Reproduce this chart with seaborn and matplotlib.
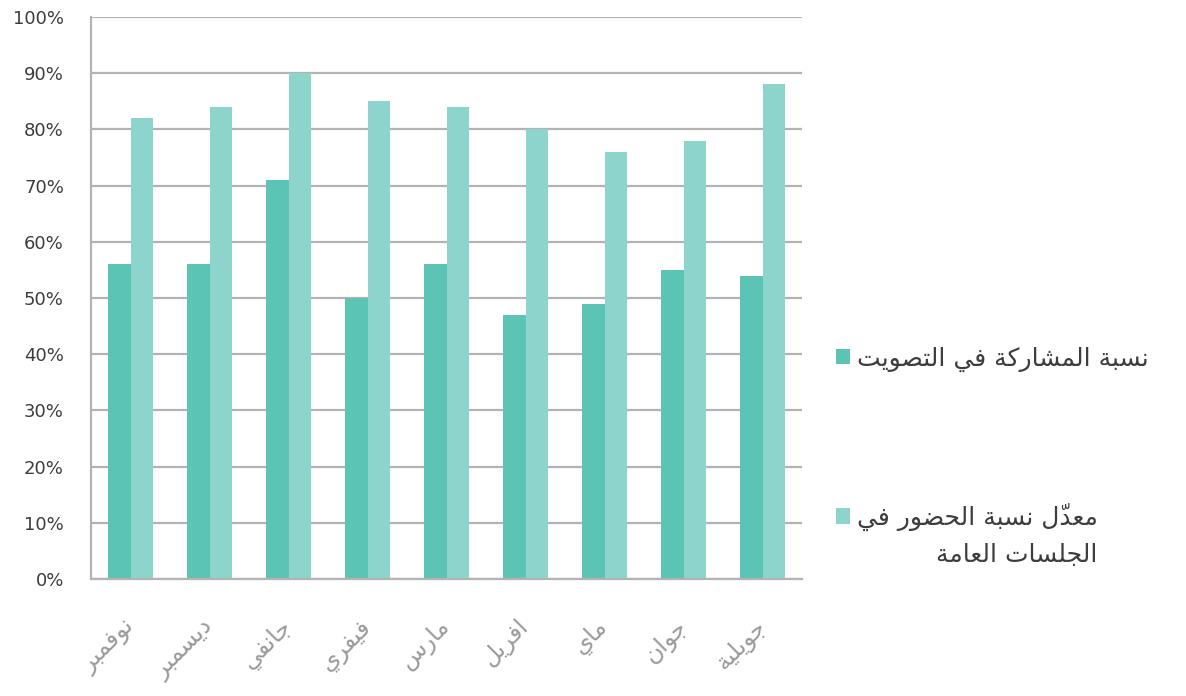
import numpy as np
import pandas as pd
import matplotlib
matplotlib.use("Agg")
import matplotlib.pyplot as plt
import matplotlib.transforms as mtransforms
import seaborn as sns

# data
months = ["نوفمبر", "ديسمبر", "جانفي", "فيفري", "مارس", "افريل", "ماي", "جوان", "جويلية"]
vote_share = [56, 56, 71, 50, 56, 47, 49, 55, 54]
attendance = [82, 84, 90, 85, 84, 80, 76, 78, 88]
series_names = ["نسبة المشاركة في التصويت", "معدّل نسبة الحضور في"]
series2_second_line = "الجلسات العامة"
colors = ["#5bc4b4", "#8dd4cc"]


# matplotlib has no arabic shaping, so pick presentation forms by hand
FORMS = {
    "ا": (0xFE8D, 2), "أ": (0xFE83, 2), "إ": (0xFE87, 2), "آ": (0xFE81, 2),
    "ب": (0xFE8F, 4), "ة": (0xFE93, 2), "ت": (0xFE95, 4), "ث": (0xFE99, 4),
    "ج": (0xFE9D, 4), "ح": (0xFEA1, 4), "خ": (0xFEA5, 4), "د": (0xFEA9, 2),
    "ذ": (0xFEAB, 2), "ر": (0xFEAD, 2), "ز": (0xFEAF, 2), "س": (0xFEB1, 4),
    "ش": (0xFEB5, 4), "ص": (0xFEB9, 4), "ض": (0xFEBD, 4), "ط": (0xFEC1, 4),
    "ظ": (0xFEC5, 4), "ع": (0xFEC9, 4), "غ": (0xFECD, 4), "ف": (0xFED1, 4),
    "ق": (0xFED5, 4), "ك": (0xFED9, 4), "ل": (0xFEDD, 4), "م": (0xFEE1, 4),
    "ن": (0xFEE5, 4), "ه": (0xFEE9, 4), "و": (0xFEED, 2), "ى": (0xFEEF, 2),
    "ي": (0xFEF1, 4),
}
LAM_ALEF = {"ا": 0xFEFB, "أ": 0xFEF7, "إ": 0xFEF9, "آ": 0xFEF5}
MARKS = set("\u064B\u064C\u064D\u064E\u064F\u0650\u0651\u0652")


def shape_line(line):
    # group into clusters (base letter + marks)
    clusters = []
    for ch in line:
        if ch in MARKS and clusters:
            clusters[-1][1].append(ch)
        else:
            clusters.append([ch, []])
    out = []
    i = 0
    n = len(clusters)
    while i < n:
        ch, marks = clusters[i]
        prev_joins = bool(out) and out[-1][2]
        if ch == "ل" and i + 1 < n and clusters[i + 1][0] in LAM_ALEF:
            code = LAM_ALEF[clusters[i + 1][0]] + (1 if prev_joins else 0)
            out.append([chr(code), marks + clusters[i + 1][1], False])
            i += 2
            continue
        if ch in FORMS:
            start, nf = FORMS[ch]
            nxt = clusters[i + 1][0] if i + 1 < n else None
            next_joins = nf == 4 and nxt in FORMS
            if prev_joins and next_joins:
                idx = 3
            elif prev_joins:
                idx = 1
            elif next_joins:
                idx = 2
            else:
                idx = 0
            out.append([chr(start + idx), marks, next_joins])
        else:
            out.append([ch, marks, False])
        i += 1
    # visual (left to right) order: reverse clusters, marks go in front of their base
    return "".join("".join(m) + c for c, m, _ in reversed(out))


def ar(text):
    return "\n".join(shape_line(l) for l in text.split("\n"))


df = pd.DataFrame({
    "month": months * 2,
    "value": vote_share + attendance,
    "series": [series_names[0]] * len(months) + [series_names[1]] * len(months),
})

sns.set_theme(style="white")
plt.rcParams["font.family"] = ["DejaVu Sans"]

grey = "#b3b3b3"
W, H = 1186, 696

fig = plt.figure(figsize=(W / 100, H / 100), dpi=100)
ax = fig.add_axes([91 / W, 1 - 579 / H, (802 - 91) / W, (579 - 17) / H])

sns.barplot(
    data=df, x="month", y="value", hue="series",
    palette=colors, width=0.57, gap=0, saturation=1,
    edgecolor="none", linewidth=0, ax=ax, legend=True,
)

ax.set_xlim(-0.5, len(months) - 0.5)
ax.set_ylim(0, 100)
ax.set_yticks(np.arange(0, 101, 10))
ax.set_yticklabels([f"{v}%" for v in range(0, 101, 10)], fontsize=13, color="#3d3d3d")
ax.yaxis.grid(True, color=grey, linewidth=1.6)
ax.set_axisbelow(True)

# ticks on the group boundaries, labels on the group centres
ax.set_xticks(np.arange(-0.5, len(months), 1.0))
ax.set_xticklabels([])
ax.set_xticks(np.arange(len(months)), minor=True)
ax.set_xticklabels([ar(m) for m in months], minor=True, rotation=45,
                   ha="right", va="center", rotation_mode="anchor",
                   fontsize=17, color="#9a9a9a")
shift = mtransforms.ScaledTranslation(5 / 100, 0, fig.dpi_scale_trans)
for lbl in ax.get_xticklabels(minor=True):
    lbl.set_transform(lbl.get_transform() + shift)
ax.tick_params(axis="x", which="major", length=8, width=1.6, color=grey, direction="out")
ax.tick_params(axis="x", which="minor", length=0, pad=32)
ax.tick_params(axis="y", length=6, width=1.6, color=grey, pad=13.5)
ax.set_xlabel("")
ax.set_ylabel("")

for side in ["top", "right"]:
    ax.spines[side].set_visible(False)
for side in ["left", "bottom"]:
    ax.spines[side].set_color(grey)
    ax.spines[side].set_linewidth(1.6)

handles, labels = ax.get_legend_handles_labels()
leg = ax.legend(
    handles, [ar(l) for l in labels],
    loc="upper left", bbox_to_anchor=(813 / W, 1 - 324 / H),
    bbox_transform=fig.transFigure, frameon=False, fontsize=18,
    handlelength=0.56, handleheight=0.56, handletextpad=0.3, labelspacing=5.25,
)
for t in leg.get_texts():
    t.set_color("#3d3d3d")

# second line of the second legend label, right aligned under the first line
fig.canvas.draw()
bb = leg.get_texts()[1].get_window_extent()
fig.text(bb.x1 / W, (bb.y0 - 12) / H, ar(series2_second_line),
         ha="right", va="top", fontsize=18, color="#3d3d3d")

fig.savefig("out.png", dpi=100)
plt.close(fig)
